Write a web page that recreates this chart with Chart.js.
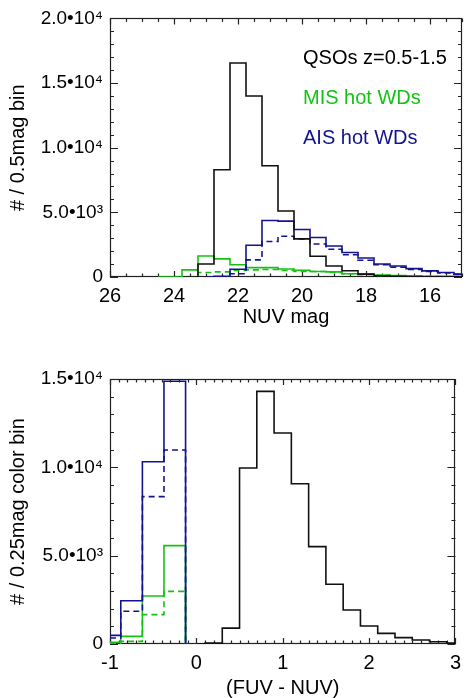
<!DOCTYPE html>
<html>
<head>
<meta charset="utf-8">
<script src="https://cdn.jsdelivr.net/npm/chart.js@4"></script>
<style>
  html, body { margin: 0; padding: 0; background: #fff; }
  #wrap { position: relative; width: 468px; height: 698px; overflow: hidden; font-family: "Liberation Sans", Arial, sans-serif; }
  canvas { position: absolute; left: 0; }
  #nuvChart { top: 0; }
  #colorChart { top: 330px; }
  .legend { position: absolute; left: 303px; font-size: 20px; line-height: 20px; white-space: nowrap; }
</style>
</head>
<body>
<div id="wrap">
  <canvas id="nuvChart" width="468" height="330"></canvas>
  <canvas id="colorChart" width="468" height="368"></canvas>
  <div class="legend" style="top:47px;color:#000">QSOs z=0.5-1.5</div>
  <div class="legend" style="top:87px;color:#14c214">MIS hot WDs</div>
  <div class="legend" style="top:127px;color:#13138f">AIS hot WDs</div>
</div>
<script>
// Colours
const BLACK = '#111111';
const GREEN = '#14c214';
const BLUE = '#13138f';

// Top panel: NUV magnitude, 0.5 mag bins (bin centres)
const nuvBins = [24.5, 24.0, 23.5, 23.0, 22.5, 22.0, 21.5, 21.0, 20.5, 20.0, 19.5, 19.0, 18.5, 18.0, 17.5, 17.0, 16.5, 16.0, 15.5, 15.0];
const nuvQso      = [null, null, 0, 1000, 8300, 16550, 14000, 8600, 5100, 2950, 1600, 850, 480, 220, 100, 60, 40, 25, 15, 10];
const nuvMis      = [0, 0, 550, 1625, 1400, 950, 725, 725, 620, 520, 420, 400, 250, 220, 150, 110, 80, 60, 50, 40];
const nuvMisDash  = [null, null, 0, 350, 400, 500, 550, 575, 500, 430, 420, 350, 250, 180, 125, 90, 70, 50, 40, 30];
const nuvAis      = [null, null, null, 0, 50, 600, 2450, 4370, 4320, 3670, 3050, 2400, 1900, 1475, 1000, 850, 650, 475, 350, 225];
const nuvAisDash  = [null, null, null, null, 0, 250, 1325, 2750, 3150, 2950, 2550, 2150, 1725, 1300, 950, 750, 575, 425, 320, 200];
const nuvXTicks = [26, 24, 22, 20, 18, 16];
const nuvYTicks = [0, 5000, 10000, 15000, 20000];
const nuvYLabels = ['0', '5.0•10³', '1.0•10⁴', '1.5•10⁴', '2.0•10⁴'];

// Bottom panel: FUV - NUV colour
const wdBins = [-1.0, -0.75, -0.5, -0.25, 0.0];
const colorAis     = [490, 2450, 10320, 14870, 0];
const colorAisDash = [340, 1850, 8340, 10980, 0];
const colorMis     = [95, 430, 2720, 5570, 0];
const colorMisDash = [40, 150, 1660, 2980, 0];
const qsoBins = [0.0, 0.2, 0.4, 0.6, 0.8, 1.0, 1.2, 1.4, 1.6, 1.8, 2.0, 2.2, 2.4, 2.6, 2.8, 3.0];
const colorQso = [0, 50, 900, 9960, 14300, 11940, 9075, 5510, 3380, 1925, 1020, 600, 360, 230, 130, 60];
const colorXTicks = [-1, 0, 1, 2, 3];
const colorXLabels = ['-1', '0', '1', '2', '3'];
const colorYTicks = [0, 5000, 10000, 15000];
const colorYLabels = ['0', '5.0•10³', '1.0•10⁴', '1.5•10⁴'];

Chart.defaults.font.family = '"Liberation Sans", Arial, sans-serif';
Chart.defaults.color = '#000';

// Helper: pair bin centres with counts
function toPoints(bins, values) {
    return bins.map((b, i) => ({ x: b, y: values[i] }));
}

function histDataset(bins, values, color, dashed) {
    return {
        data: toPoints(bins, values),
        borderColor: color,
        borderWidth: 1.6,
        borderDash: dashed ? [6, 4] : [],
        stepped: 'middle',
        pointRadius: 0,
        fill: false,
        spanGaps: false
    };
}

// IDL-style box with inward ticks on all four sides
const frameTicks = {
    id: 'frameTicks',
    beforeDatasetsDraw(chart, args, opts) {
        const { ctx, chartArea: a, scales: { x, y } } = chart;
        ctx.save();
        ctx.strokeStyle = '#222';
        ctx.lineWidth = 1.2;
        ctx.strokeRect(Math.round(a.left) + 0.5, Math.round(a.top) + 0.5,
            Math.round(a.right - a.left) - 1, Math.round(a.bottom - a.top) - 1);
        ctx.beginPath();
        const lo = Math.min(x.min, x.max), hi = Math.max(x.min, x.max);
        for (let i = Math.ceil(lo / opts.xMinor - 1e-6); i * opts.xMinor <= hi + 1e-6; i++) {
            const v = i * opts.xMinor;
            const major = Math.abs(v / opts.xMajor - Math.round(v / opts.xMajor)) < 1e-6;
            const len = major ? opts.xMajorLen : opts.xMinorLen;
            const px = Math.round(x.getPixelForValue(v)) + 0.5;
            ctx.moveTo(px, a.bottom); ctx.lineTo(px, a.bottom - len);
            ctx.moveTo(px, a.top); ctx.lineTo(px, a.top + len);
        }
        for (let i = Math.ceil(y.min / opts.yMinor - 1e-6); i * opts.yMinor <= y.max + 1e-6; i++) {
            const v = i * opts.yMinor;
            const major = Math.abs(v / opts.yMajor - Math.round(v / opts.yMajor)) < 1e-6;
            const len = major ? opts.yMajorLen : opts.yMinorLen;
            const py = Math.round(y.getPixelForValue(v)) + 0.5;
            ctx.moveTo(a.left, py); ctx.lineTo(a.left + len, py);
            ctx.moveTo(a.right, py); ctx.lineTo(a.right - len, py);
        }
        ctx.stroke();
        ctx.restore();
    }
};

function axisX(min, max, reverse, ticks, labels, title, height, titlePad) {
    return {
        type: 'linear', min: min, max: max, reverse: reverse,
        afterBuildTicks: s => { s.ticks = ticks.map(v => ({ value: v })); },
        afterFit: s => { s.height = height; },
        grid: { display: false, drawTicks: false },
        border: { display: false },
        ticks: { padding: 7, maxRotation: 0, autoSkip: false, font: { size: 20 },
                 callback: (v, i) => labels[i] },
        title: { display: true, text: title, font: { size: 20, lineHeight: 1 }, padding: titlePad }
    };
}

function axisY(max, ticks, labels, title) {
    return {
        type: 'linear', min: 0, max: max,
        afterBuildTicks: s => { s.ticks = ticks.map(v => ({ value: v })); },
        afterFit: s => { s.width = 110; },
        grid: { display: false, drawTicks: false },
        border: { display: false },
        ticks: { padding: 7, autoSkip: false, font: { size: 19 },
                 callback: (v, i) => labels[i] },
        title: { display: true, text: title, font: { size: 20, lineHeight: 1 }, padding: 8 }
    };
}

const commonPlugins = { legend: { display: false }, tooltip: { enabled: false } };

new Chart(document.getElementById('nuvChart'), {
    type: 'line',
    data: {
        datasets: [
            histDataset(nuvBins, nuvQso, BLACK, false),
            histDataset(nuvBins, nuvAis, BLUE, false),
            histDataset(nuvBins, nuvAisDash, BLUE, true),
            histDataset(nuvBins, nuvMis, GREEN, false),
            histDataset(nuvBins, nuvMisDash, GREEN, true)
        ]
    },
    options: {
        responsive: false, animation: false, devicePixelRatio: 1,
        layout: { padding: { top: 10, right: 6, left: 0, bottom: 0 } },
        plugins: Object.assign({
            frameTicks: { xMinor: 0.5, xMajor: 2, xMajorLen: 6, xMinorLen: 3.5,
                          yMinor: 1000, yMajor: 5000, yMajorLen: 8, yMinorLen: 4 }
        }, commonPlugins),
        scales: {
            x: axisX(15, 26, true, nuvXTicks, nuvXTicks.map(String), 'NUV mag', 53, 3),
            y: axisY(20000, nuvYTicks, nuvYLabels, '# / 0.5mag bin')
        }
    },
    plugins: [frameTicks]
});

new Chart(document.getElementById('colorChart'), {
    type: 'line',
    data: {
        datasets: [
            histDataset(qsoBins, colorQso, BLACK, false),
            histDataset(wdBins, colorAis, BLUE, false),
            histDataset(wdBins, colorAisDash, BLUE, true),
            histDataset(wdBins, colorMis, GREEN, false),
            histDataset(wdBins, colorMisDash, GREEN, true)
        ]
    },
    options: {
        responsive: false, animation: false, devicePixelRatio: 1,
        layout: { padding: { top: 49, right: 6, left: 0, bottom: 0 } },
        plugins: Object.assign({
            frameTicks: { xMinor: 0.1, xMajor: 1, xMajorLen: 6, xMinorLen: 3.5,
                          yMinor: 1000, yMajor: 5000, yMajorLen: 8, yMinorLen: 4 }
        }, commonPlugins),
        scales: {
            x: axisX(-1, 3, false, colorXTicks, colorXLabels, '(FUV - NUV)', 54, 0),
            y: axisY(15000, colorYTicks, colorYLabels, '# / 0.25mag color bin')
        }
    },
    plugins: [frameTicks]
});
</script>
</body>
</html>
